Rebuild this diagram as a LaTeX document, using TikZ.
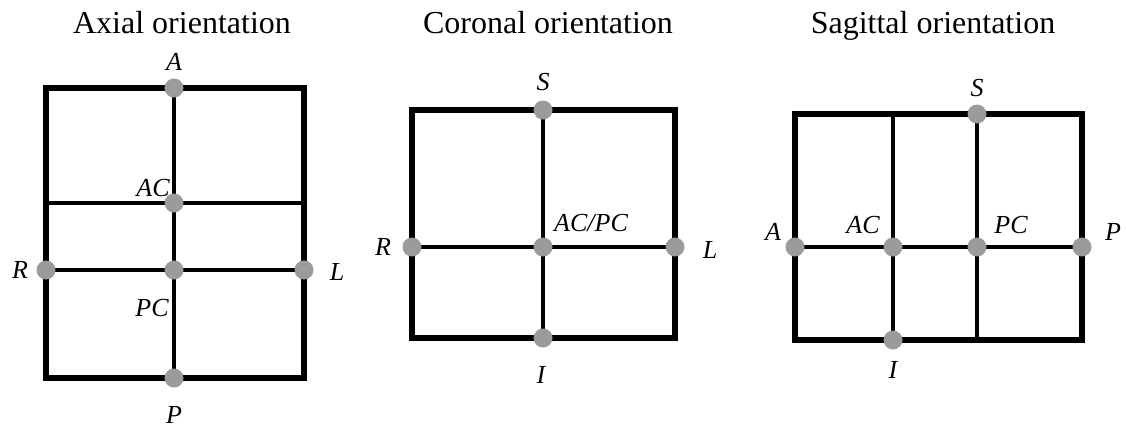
\documentclass[tikz,border=0pt]{standalone}
\usepackage{fontspec}
\setmainfont{Liberation Serif}
\usetikzlibrary{positioning}
\definecolor{dotgray}{RGB}{155,155,155}
\tikzset{
  frame/.style={line width=2.6pt},
  gridline/.style={line width=2pt},
  dot/.style={circle,fill=dotgray,inner sep=0pt,minimum size=9.5pt},
  lbl/.style={font=\fontsize{13}{15}\selectfont\itshape,inner sep=0pt},
  ttl/.style={font=\fontsize{16}{19}\selectfont,inner sep=0pt,anchor=base}
}

\begin{document}
\begin{tikzpicture}[x=0.5pt,y=-0.5pt]
  \useasboundingbox (0,0) rectangle (1126,430);

  % axial
  \node[ttl] (axttl) at (182,33) {Axial orientation};
  \coordinate (ax-nw) at (46,88);
  \coordinate (ax-se) at (304,378);
  \coordinate (ax-A) at (174,88);
  \coordinate (ax-AC) at (174,203);
  \coordinate (ax-acl) at (46,203);
  \coordinate (ax-acr) at (304,203);
  \coordinate (ax-R) at (46,270);
  \coordinate (ax-PC) at (174,270);
  \coordinate (ax-L) at (304,270);
  \coordinate (ax-P) at (174,378);
  \draw[frame] (ax-nw) rectangle (ax-se);
  \draw[gridline] (ax-A) -- (ax-P);
  \draw[gridline] (ax-acl) -- (ax-acr);
  \draw[gridline] (ax-R) -- (ax-L);
  \foreach \p in {A,AC,R,PC,L,P}
    \node[dot] (ax-d\p) at (ax-\p) {};
  \node[lbl] (ax-lA) at (174,62) {A};
  \node[lbl] (ax-lAC) at (153,188) {AC};
  \node[lbl] (ax-lR) at (20,270) {R};
  \node[lbl] (ax-lPC) at (152,308) {PC};
  \node[lbl] (ax-lL) at (337,272) {L};
  \node[lbl] (ax-lP) at (174,415) {P};

  % coronal
  \node[ttl] (cottl) at (548,33) {Coronal orientation};
  \coordinate (co-nw) at (412,110);
  \coordinate (co-se) at (675,338);
  \coordinate (co-S) at (543,110);
  \coordinate (co-R) at (412,247);
  \coordinate (co-C) at (543,247);
  \coordinate (co-L) at (675,247);
  \coordinate (co-I) at (543,338);
  \draw[frame] (co-nw) rectangle (co-se);
  \draw[gridline] (co-S) -- (co-I);
  \draw[gridline] (co-R) -- (co-L);
  \foreach \p in {S,R,C,L,I}
    \node[dot] (co-d\p) at (co-\p) {};
  \node[lbl] (co-lS) at (543,82) {S};
  \node[lbl] (co-lR) at (383,247) {R};
  \node[lbl] (co-lC) at (591,223) {AC/PC};
  \node[lbl] (co-lL) at (710,250) {L};
  \node[lbl] (co-lI) at (541,375) {I};

  % sagittal
  \node[ttl] (sattl) at (933,33) {Sagittal orientation};
  \coordinate (sa-nw) at (795,114);
  \coordinate (sa-se) at (1082,340);
  \coordinate (sa-act) at (893,114);
  \coordinate (sa-S) at (977,114);
  \coordinate (sa-A) at (795,247);
  \coordinate (sa-AC) at (893,247);
  \coordinate (sa-PC) at (977,247);
  \coordinate (sa-P) at (1082,247);
  \coordinate (sa-I) at (893,340);
  \coordinate (sa-pcb) at (977,340);
  \draw[frame] (sa-nw) rectangle (sa-se);
  \draw[gridline] (sa-act) -- (sa-I);
  \draw[gridline] (sa-S) -- (sa-pcb);
  \draw[gridline] (sa-A) -- (sa-P);
  \foreach \p in {S,A,AC,PC,P,I}
    \node[dot] (sa-d\p) at (sa-\p) {};
  \node[lbl] (sa-lS) at (977,88) {S};
  \node[lbl] (sa-lA) at (773,232) {A};
  \node[lbl] (sa-lAC) at (863,225) {AC};
  \node[lbl] (sa-lPC) at (1011,225) {PC};
  \node[lbl] (sa-lP) at (1113,232) {P};
  \node[lbl] (sa-lI) at (893,370) {I};
\end{tikzpicture}
\end{document}
